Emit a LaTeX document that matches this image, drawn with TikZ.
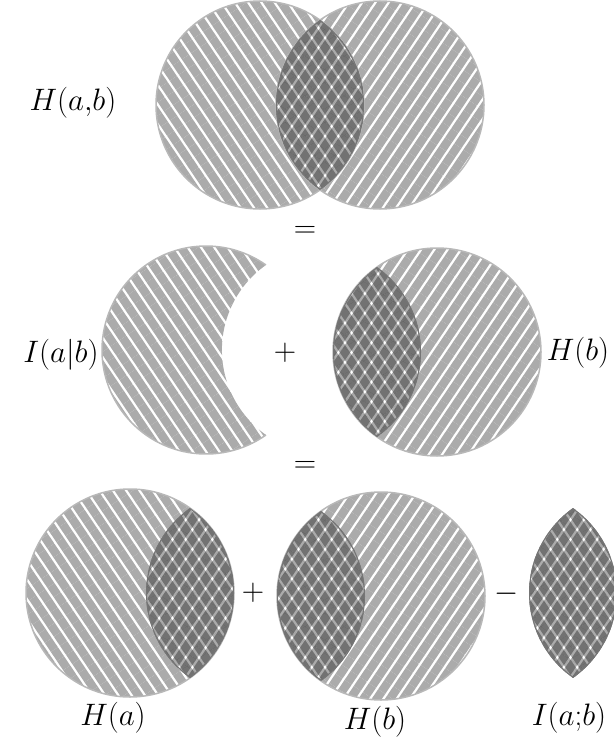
\documentclass[tikz,border=0pt]{standalone}
\usepackage{fix-cm}
\usepackage{amsmath,amssymb}
\usepackage{tikz}
\usetikzlibrary{patterns.meta}
\usepackage{xcolor}

\definecolor{stripe}{gray}{0.67}
\definecolor{rimgray}{gray}{0.72}
\definecolor{lensgray}{gray}{0.46}
\tikzset{
  stripesA/.style={pattern={Lines[angle=-56,distance=11pt,line width=8.5pt]}, pattern color=stripe},
  stripesB/.style={pattern={Lines[angle=56,distance=11pt,line width=8.5pt]}, pattern color=stripe},
  rim/.style={draw=rimgray, line width=1.5pt},
  lensrim/.style={draw=lensgray, line width=2.2pt},
  term/.style={font=\fontsize{31}{37}\selectfont}
}
% overlap of two discs: both stripe sets on top of each other
\newcommand{\lensfill}[2]{%
  \begin{scope}
    \clip (#1) circle (\rad);
    \clip (#2) circle (\rad);
    \fill[white] (#1) circle (\rad);
    \begin{scope}[blend mode=multiply]
      \fill[stripesA] (#1) circle (\rad);
      \fill[stripesB] (#1) circle (\rad);
    \end{scope}
    \draw[lensrim] (#1) circle (\rad) (#2) circle (\rad);
  \end{scope}}

\begin{document}
\begin{tikzpicture}[x=1pt, y=-1pt, every node/.style={term}]
  \useasboundingbox (0,0) rectangle (613,746);
  \def\rad{104}
  % top row: joint entropy
  \coordinate (a1) at (260,105);
  \coordinate (b1) at (380,105);
  \fill[stripesA] (a1) circle (\rad);
  \fill[stripesB] (b1) circle (\rad);
  \draw[rim] (a1) circle (\rad) (b1) circle (\rad);
  \lensfill{a1}{b1}
  \node (hab) at (73,103) {$H(a{,}b)$};
  \node (eq1) at (305,232) {$=$};

  % middle row: conditional part + H(b)
  \coordinate (a2) at (206,350);
  \coordinate (c2) at (326,350);
  \coordinate (b2) at (437,352);
  \coordinate (d2) at (317,352);
  \fill[stripesA] ([shift={(54.8:\rad)}]a2) arc[start angle=54.8, end angle=305.2, radius=\rad]
    arc[start angle=234.8, end angle=125.2, radius=\rad] -- cycle;
  \draw[rim] ([shift={(54.8:\rad)}]a2) arc[start angle=54.8, end angle=305.2, radius=\rad];
  \fill[stripesB] (b2) circle (\rad);
  \draw[rim] (b2) circle (\rad);
  \lensfill{b2}{d2}
  \node (iab) at (61,355) {$I(a|b)$};
  \node (plus1) at (285,353) {$+$};
  \node (hb1) at (578,353) {$H(b)$};
  \node (eq2) at (305,467) {$=$};

  % bottom row: H(a) + H(b) - I(a;b)
  \coordinate (a3) at (130,593);
  \coordinate (e3) at (250,593);
  \coordinate (b3) at (381,596);
  \coordinate (f3) at (261,596);
  \coordinate (l1) at (513,593);
  \coordinate (l2) at (633,593);
  \fill[stripesA] (a3) circle (\rad);
  \draw[rim] (a3) circle (\rad);
  \lensfill{a3}{e3}
  \fill[stripesB] (b3) circle (\rad);
  \draw[rim] (b3) circle (\rad);
  \lensfill{b3}{f3}
  \lensfill{l1}{l2}
  \node (plus2) at (253,593) {$+$};
  \node (minus) at (507,594) {$-$};
  \node (ha) at (113,718) {$H(a)$};
  \node (hb2) at (375,722) {$H(b)$};
  \node (iab2) at (569,718) {$I(a{;}b)$};
\end{tikzpicture}
\end{document}
